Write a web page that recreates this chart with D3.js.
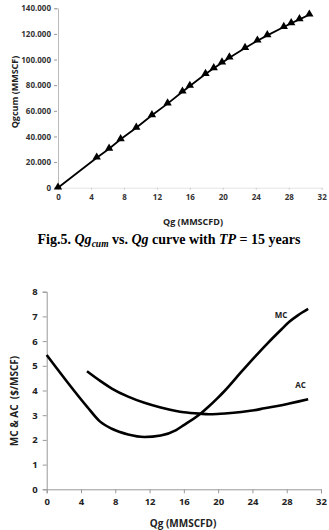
<!DOCTYPE html>
<html>
<head>
<meta charset="utf-8">
<script src="https://cdn.jsdelivr.net/npm/d3@7"></script>
<style>
    body { margin: 0; background: #fff; }
    svg { display: block; }
    .tick text { font-family: "Open Sans", sans-serif; font-weight: bold; }
    .title { font-family: "Open Sans", sans-serif; font-weight: bold; fill: #222; white-space: pre; }
    .caption { font-family: "Liberation Serif", "Times New Roman", serif; font-weight: bold; font-size: 14px; }
</style>
</head>
<body>
<svg id="chart" width="329" height="530"></svg>
<script>
// Qg (MMSCFD) sample points shared by both figures
var qg = [0, 4.7, 6.2, 7.6, 9.5, 11.4, 13.3, 15.1, 16.0, 17.9, 18.9, 19.9, 20.8, 22.7, 24.2, 25.4, 27.4, 28.3, 29.3, 30.5];
// cumulative gas (MMSCF)
var qgcum = [0, 23400, 30400, 37800, 46800, 56500, 65600, 74900, 79400, 88700, 93200, 97600, 101500, 109000, 114700, 118900, 125400, 128300, 131400, 135000];
// marginal and average cost ($/MSCF); AC starts at the second point
var mc = [5.44, 3.35, 2.75, 2.45, 2.22, 2.12, 2.18, 2.4, 2.6, 3.05, 3.35, 3.68, 4.0, 4.75, 5.33, 5.78, 6.48, 6.78, 7.04, 7.3];
var ac = [null, 4.78, 4.4, 4.08, 3.75, 3.5, 3.31, 3.17, 3.12, 3.06, 3.04, 3.05, 3.07, 3.13, 3.2, 3.28, 3.4, 3.47, 3.55, 3.65];

var xTicks = [0, 4, 8, 12, 16, 20, 24, 28, 32];
var cumTicks = [0, 20000, 40000, 60000, 80000, 100000, 120000, 140000];
var costTicks = [0, 1, 2, 3, 4, 5, 6, 7, 8];

var svg = d3.select("#chart");
var dotFormat = d3.formatLocale({ decimal: ",", thousands: ".", grouping: [3], currency: ["", ""] }).format(",");

/* ---------- Fig. 5 : Qgcum vs Qg ---------- */
(function () {
    var left = 58, right = 321.7, top = 8.3, bottom = 187.7;
    var x = d3.scaleLinear().domain([0, 32]).range([left, right]);
    var y = d3.scaleLinear().domain([0, 140000]).range([bottom, top]);
    var g = svg.append("g");

    // y axis
    var yAxis = g.append("g")
        .attr("transform", "translate(" + left + ",0)")
        .call(d3.axisLeft(y).tickValues(cumTicks).tickFormat(dotFormat).tickSize(3).tickPadding(4));
    yAxis.select(".domain").attr("stroke", "#bbb");
    yAxis.selectAll(".tick line").attr("stroke", "#999").attr("transform", "translate(-1,0)");
    yAxis.selectAll(".tick text").attr("font-size", 8).attr("fill", "#333");

    // x axis (very faint line)
    var xAxis = g.append("g")
        .attr("transform", "translate(0," + bottom + ")")
        .call(d3.axisBottom(x).tickValues(xTicks).tickSize(2).tickPadding(5));
    xAxis.select(".domain").attr("stroke", "#e4e4e4");
    xAxis.selectAll(".tick line").attr("stroke", "#ccc");
    xAxis.selectAll(".tick text").attr("font-size", 8).attr("fill", "#333");

    var pts = qg.map(function (d, i) { return [d, qgcum[i]]; });

    g.append("path")
        .datum(pts)
        .attr("fill", "none")
        .attr("stroke", "#000")
        .attr("stroke-width", 1.8)
        .attr("d", d3.line().x(function (d) { return x(d[0]); }).y(function (d) { return y(d[1]); }));

    g.selectAll("path.marker")
        .data(pts)
        .enter().append("path")
        .classed("marker", true)
        .attr("transform", function (d) { return "translate(" + x(d[0]) + "," + (y(d[1]) - 0.5) + ")"; })
        .attr("d", d3.symbol().type(d3.symbolTriangle).size(30))
        .attr("fill", "#000");

    // titles
    g.append("text")
        .classed("title", true)
        .attr("font-size", 9)
        .attr("text-anchor", "middle")
        .attr("transform", "translate(18," + 92 + ") rotate(-90)")
        .text("Qgcum (MMSCF)");

    g.append("text")
        .classed("title", true)
        .attr("font-size", 9)
        .attr("text-anchor", "middle")
        .attr("x", 193)
        .attr("y", 225)
        .text("Qg (MMSCFD)");

    // figure caption
    var cap = g.append("text")
        .classed("caption", true)
        .attr("text-anchor", "middle")
        .attr("x", 169)
        .attr("y", 244);
    cap.append("tspan").text("Fig.5. ");
    cap.append("tspan").attr("font-style", "italic").text("Qg");
    cap.append("tspan").attr("font-style", "italic").attr("font-size", 9.5).attr("dy", 3).text("cum");
    cap.append("tspan").attr("dy", -3).text(" vs. ");
    cap.append("tspan").attr("font-style", "italic").text("Qg");
    cap.append("tspan").text(" curve with ");
    cap.append("tspan").attr("font-style", "italic").text("TP");
    cap.append("tspan").text(" = 15 years");
})();

/* ---------- MC & AC vs Qg ---------- */
(function () {
    var left = 46.7, right = 321, top = 291.7, bottom = 489.3;
    var x = d3.scaleLinear().domain([0, 32]).range([left, right]);
    var y = d3.scaleLinear().domain([0, 8]).range([bottom, top]);
    var g = svg.append("g");

    var yAxis = g.append("g")
        .attr("transform", "translate(" + left + ",0)")
        .call(d3.axisLeft(y).tickValues(costTicks).tickSize(4).tickPadding(5));
    yAxis.select(".domain").attr("stroke", "#999");
    yAxis.selectAll(".tick line").attr("stroke", "#999");
    yAxis.selectAll(".tick text").attr("font-size", 9.5).attr("fill", "#222");

    var xAxis = g.append("g")
        .attr("transform", "translate(0," + bottom + ")")
        .call(d3.axisBottom(x).tickValues(xTicks).tickSize(4).tickPadding(5));
    xAxis.select(".domain").attr("stroke", "#999");
    xAxis.selectAll(".tick line").attr("stroke", "#999");
    xAxis.selectAll(".tick text").attr("font-size", 9.5).attr("fill", "#222");

    var line = d3.line()
        .defined(function (d) { return d[1] !== null; })
        .curve(d3.curveMonotoneX)
        .x(function (d) { return x(d[0]); })
        .y(function (d) { return y(d[1]); });

    [mc, ac].forEach(function (series) {
        g.append("path")
            .datum(qg.map(function (d, i) { return [d, series[i]]; }))
            .attr("fill", "none")
            .attr("stroke", "#000")
            .attr("stroke-width", 2.6)
            .attr("d", line);
    });

    // curve labels
    g.append("text")
        .classed("title", true)
        .attr("font-size", 8)
        .attr("font-weight", "normal")
        .attr("x", x(26.6))
        .attr("y", 318)
        .text("MC");

    g.append("text")
        .classed("title", true)
        .attr("font-size", 8)
        .attr("font-weight", "normal")
        .attr("x", x(29))
        .attr("y", 388)
        .text("AC");

    g.append("text")
        .classed("title", true)
        .attr("font-size", 10)
        .attr("text-anchor", "middle")
        .attr("transform", "translate(18," + 401 + ") rotate(-90)")
        .text("MC & AC  ($/MSCF)");

    g.append("text")
        .classed("title", true)
        .attr("font-size", 10)
        .attr("text-anchor", "middle")
        .attr("x", 183)
        .attr("y", 527)
        .text("Qg (MMSCFD)");
})();
</script>
</body>
</html>
